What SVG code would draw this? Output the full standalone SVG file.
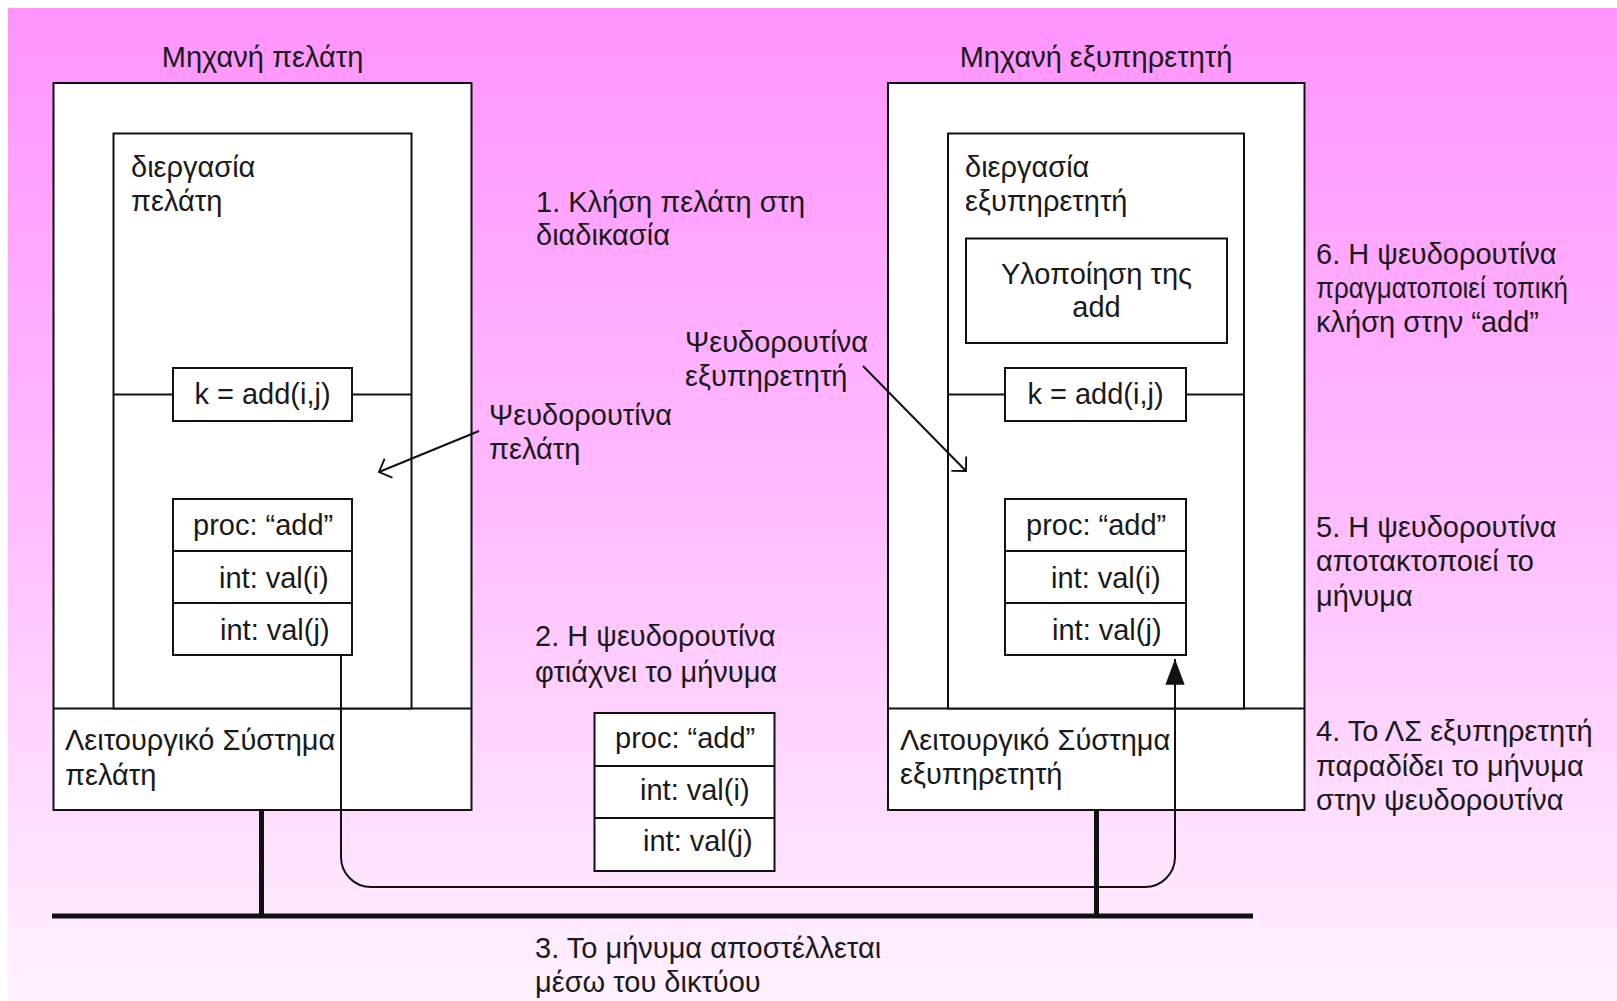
<svg xmlns="http://www.w3.org/2000/svg" width="1617" height="1001" viewBox="0 0 1617 1001">
  <defs>
    <linearGradient id="bg" x1="0" y1="0" x2="0" y2="1">
      <stop offset="0" stop-color="#ff94ff"/>
      <stop offset="0.5" stop-color="#ffbcff"/>
      <stop offset="1" stop-color="#fff2ff"/>
    </linearGradient>
    <marker id="open" markerUnits="userSpaceOnUse" markerWidth="30" markerHeight="30" refX="0" refY="0" viewBox="-16 -15 32 30" orient="auto" overflow="visible">
      <path d="M-11,-11 L0,0 L-11,11" fill="none" stroke="#111" stroke-width="2"/>
    </marker>
    <marker id="solid" markerUnits="userSpaceOnUse" markerWidth="30" markerHeight="30" refX="0" refY="0" viewBox="-26 -12 28 24" orient="auto" overflow="visible">
      <path d="M0,0 L-24,-9 L-24,9 Z" fill="#111"/>
    </marker>
  </defs>
  <style>
    text { font-family: "Liberation Sans", Arial, sans-serif; font-size: 29px; fill: #1a1a1a; }
    .mid { text-anchor: middle; }
    .box { fill: #ffffff; stroke: #111; stroke-width: 2; }
    .ln { fill: none; stroke: #111; stroke-width: 2; }
    .net { fill: none; stroke: #111; stroke-width: 5; }
  </style>

  <rect x="8" y="8" width="1609" height="993" fill="url(#bg)"/>

  <!-- client machine -->
  <g id="client-machine">
    <text class="mid" x="262.5" y="67">Μηχανή πελάτη</text>
    <rect class="box" x="53.5" y="83" width="418" height="727"/>
    <line class="ln" x1="53.5" y1="708.5" x2="471.5" y2="708.5"/>
  </g>
  <g id="client-process">
    <rect class="box" x="113.5" y="133.5" width="298" height="575"/>
    <text x="131" y="177">διεργασία</text>
    <text x="131" y="211">πελάτη</text>
    <line class="ln" x1="113.5" y1="394.5" x2="173" y2="394.5"/>
    <line class="ln" x1="352" y1="394.5" x2="411.5" y2="394.5"/>
  </g>
  <g id="client-call">
    <rect class="box" x="173" y="368" width="179" height="53"/>
    <text class="mid" x="262.5" y="404">k = add(i,j)</text>
  </g>
  <g id="client-message">
    <rect class="box" x="173" y="499" width="179" height="156"/>
    <line class="ln" x1="173" y1="551" x2="352" y2="551"/>
    <line class="ln" x1="173" y1="603" x2="352" y2="603"/>
    <text x="193" y="535">proc: “add”</text>
    <text x="219" y="588">int: val(i)</text>
    <text x="220" y="640">int: val(j)</text>
  </g>
  <g id="client-os">
    <text x="65" y="750">Λειτουργικό Σύστημα</text>
    <text x="65" y="785">πελάτη</text>
  </g>

  <!-- server machine -->
  <g id="server-machine">
    <text class="mid" x="1096" y="67">Μηχανή εξυπηρετητή</text>
    <rect class="box" x="888" y="83" width="416.5" height="727"/>
    <line class="ln" x1="888" y1="708.5" x2="1304.5" y2="708.5"/>
  </g>
  <g id="server-process">
    <rect class="box" x="948" y="133.5" width="296" height="575"/>
    <text x="965" y="177">διεργασία</text>
    <text x="965" y="211">εξυπηρετητή</text>
    <line class="ln" x1="948" y1="394.5" x2="1005" y2="394.5"/>
    <line class="ln" x1="1186" y1="394.5" x2="1244" y2="394.5"/>
  </g>
  <g id="server-impl">
    <rect class="box" x="966" y="238.5" width="261" height="104.5"/>
    <text class="mid" x="1096.5" y="284">Υλοποίηση της</text>
    <text class="mid" x="1096.5" y="317">add</text>
  </g>
  <g id="server-call">
    <rect class="box" x="1005" y="368" width="181" height="53"/>
    <text class="mid" x="1095.5" y="404">k = add(i,j)</text>
  </g>
  <g id="server-message">
    <rect class="box" x="1005" y="499" width="181" height="156"/>
    <line class="ln" x1="1005" y1="551" x2="1186" y2="551"/>
    <line class="ln" x1="1005" y1="603" x2="1186" y2="603"/>
    <text x="1026" y="535">proc: “add”</text>
    <text x="1051" y="588">int: val(i)</text>
    <text x="1052" y="640">int: val(j)</text>
  </g>
  <g id="server-os">
    <text x="900" y="750">Λειτουργικό Σύστημα</text>
    <text x="900" y="784">εξυπηρετητή</text>
  </g>

  <!-- message in transit -->
  <g id="transit-message">
    <rect class="box" x="594.5" y="713" width="180" height="158"/>
    <line class="ln" x1="594.5" y1="766" x2="774.5" y2="766"/>
    <line class="ln" x1="594.5" y1="818" x2="774.5" y2="818"/>
    <text x="615" y="748">proc: “add”</text>
    <text x="640" y="800">int: val(i)</text>
    <text x="643" y="851">int: val(j)</text>
  </g>

  <!-- step notes -->
  <g id="step-1">
    <text x="536" y="212">1. Κλήση πελάτη στη</text>
    <text x="536" y="245">διαδικασία</text>
  </g>
  <g id="step-2">
    <text x="535" y="646">2. Η ψευδορουτίνα</text>
    <text x="535" y="682">φτιάχνει το μήνυμα</text>
  </g>
  <g id="step-3">
    <text x="535" y="958">3. Το μήνυμα αποστέλλεται</text>
    <text x="535" y="992">μέσω του δικτύου</text>
  </g>
  <g id="step-4">
    <text x="1316" y="741">4. Το ΛΣ εξυπηρετητή</text>
    <text x="1316" y="776">παραδίδει το μήνυμα</text>
    <text x="1316" y="810">στην ψευδορουτίνα</text>
  </g>
  <g id="step-5">
    <text x="1316" y="537">5. Η ψευδορουτίνα</text>
    <text x="1316" y="571">αποτακτοποιεί το</text>
    <text x="1316" y="606">μήνυμα</text>
  </g>
  <g id="step-6">
    <text x="1316" y="264">6. Η ψευδορουτίνα</text>
    <text x="1316" y="298" textLength="252" lengthAdjust="spacingAndGlyphs">πραγματοποιεί τοπική</text>
    <text x="1316" y="332">κλήση στην “add”</text>
  </g>
  <g id="client-stub-label">
    <text x="489" y="425">Ψευδορουτίνα</text>
    <text x="489" y="459">πελάτη</text>
  </g>
  <g id="server-stub-label">
    <text x="685" y="352">Ψευδορουτίνα</text>
    <text x="685" y="386">εξυπηρετητή</text>
  </g>

  <!-- connectors -->
  <g id="connectors">
    <line class="net" x1="52" y1="916" x2="1253" y2="916"/>
    <line class="net" x1="261.5" y1="810" x2="261.5" y2="916" stroke-width="4"/>
    <line class="net" x1="1096.5" y1="810" x2="1096.5" y2="916" stroke-width="4"/>
    <path class="ln" d="M341,655 V857 A30,30 0 0 0 371,887 H1145 A30,30 0 0 0 1175,857 V659" marker-end="url(#solid)"/>
    <line class="ln" x1="479" y1="431" x2="379" y2="472" marker-end="url(#open)"/>
    <line class="ln" x1="863" y1="366" x2="966" y2="471" marker-end="url(#open)"/>
  </g>
</svg>
